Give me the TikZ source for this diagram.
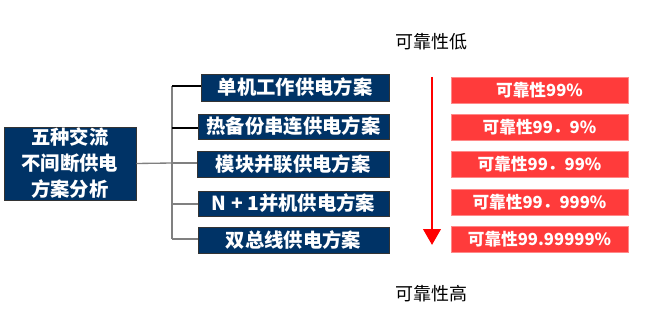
\documentclass[tikz,border=0pt]{standalone}
\usepackage{fontspec}
\setmainfont{Noto Sans CJK SC}
\usetikzlibrary{arrows.meta}
\definecolor{navy}{RGB}{0,51,102}
\definecolor{redbox}{RGB}{255,59,59}
\definecolor{redline}{RGB}{255,0,0}
\begin{document}
\begin{tikzpicture}[x=0.75pt,y=-0.75pt,
  navybox/.style={draw=black!80,line width=0.6pt,fill=navy,text=white,font=\fontsize{14.5}{17}\selectfont\bfseries,inner sep=0pt,align=center},
  redrect/.style={draw=redbox!60,line width=0.5pt,fill=redbox,text=white,font=\fontsize{12.5}{15}\selectfont\bfseries,inner sep=0pt,minimum width=177*0.75pt,minimum height=26*0.75pt},
  header/.style={font=\fontsize{13.5}{16}\selectfont,text=black,inner sep=0pt},
  darkcon/.style={draw=black,line width=0.8pt},
  graycon/.style={draw=gray,line width=1pt}]
\useasboundingbox (0,0) rectangle (647,335);
% left box
\node[navybox,minimum width=132*0.75pt,minimum height=73*0.75pt,font=\fontsize{14.5}{19.5}\selectfont\bfseries] (root) at (70,163.5) {五种交流\\不间断供电\\方案分析};
% option boxes
\node[navybox,minimum width=188*0.75pt,minimum height=27*0.75pt] (b1) at (295,87.5) {单机工作供电方案};
\node[navybox,minimum width=191*0.75pt,minimum height=25*0.75pt] (b2) at (293.5,126.5) {热备份串连供电方案};
\node[navybox,minimum width=192*0.75pt,minimum height=26*0.75pt] (b3) at (293,164) {模块并联供电方案};
\node[navybox,minimum width=191*0.75pt,minimum height=25*0.75pt] (b4) at (293.5,203.5) {N + 1并机供电方案};
\node[navybox,minimum width=191*0.75pt,minimum height=26*0.75pt] (b5) at (293.5,240) {双总线供电方案};
% connectors
\coordinate (j) at (172,163);
\draw[graycon] (root.east) -- (j);
\draw[graycon] (j |- 0,86) -- (j |- 0,239);
\draw[darkcon] (j |- 0,86) -- (b1.west |- 0,86);
\draw[darkcon] (j |- 0,128) -- (b2.west |- 0,128);
\draw[graycon] (j) -- (b3.west |- j);
\draw[graycon] (j |- 0,204) -- (b4.west |- 0,204);
\draw[graycon] (j |- 0,239) -- (b5.west |- 0,239);
% headers
\node[header] (low) at (431,42) {可靠性低};
\node[header] (high) at (431,294) {可靠性高};
% arrow
\coordinate (as) at (432,77);
\coordinate (ae) at (432,245);
\draw[redline,line width=2.2pt,-{Triangle[width=13pt,length=12pt]}] (as) -- (ae);
% red boxes
\node[redrect] (r1) at (539.5,90) {可靠性99\%};
\node[redrect] (r2) at (539.5,127) {可靠性99．9\%};
\node[redrect] (r3) at (539.5,164) {可靠性99．99\%};
\node[redrect] (r4) at (539.5,202.5) {可靠性99．999\%};
\node[redrect] (r5) at (539.5,239.5) {可靠性99.99999\%};
\end{tikzpicture}
\end{document}
